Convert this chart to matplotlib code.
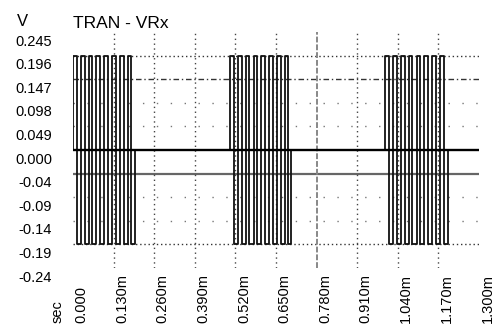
import matplotlib
matplotlib.use("Agg")
import matplotlib.pyplot as plt
from matplotlib.transforms import ScaledTranslation

plt.rcParams['font.family'] = ['Liberation Sans', 'DejaVu Sans']

# x in milliseconds
x_ticks = [0.0, 0.13, 0.26, 0.39, 0.52, 0.65, 0.78, 0.91, 1.04, 1.17, 1.30]
x_labels = ["0.000", "0.130m", "0.260m", "0.390m", "0.520m", "0.650m",
            "0.780m", "0.910m", "1.040m", "1.170m", "1.300m"]
y_ticks = [0.245, 0.196, 0.147, 0.098, 0.049, 0.0, -0.049, -0.098, -0.147, -0.196, -0.245]
y_labels = ["0.245", "0.196", "0.147", "0.098", "0.049", "0.000",
            "-0.04", "-0.09", "-0.14", "-0.19", "-0.24"]

# trace VRx: switching times (ms) and the level held after each switch (V)
burst1_t = [0.000, 0.012, 0.025, 0.037, 0.050, 0.062, 0.075, 0.087, 0.100, 0.112,
            0.125, 0.137, 0.150, 0.162, 0.175, 0.187, 0.200]
burst1_v = [0.196, -0.196, 0.196, -0.196, 0.196, -0.196, 0.196, -0.196, 0.196, -0.196,
            0.196, -0.196, 0.196, -0.196, 0.196, -0.196, 0.0]
burst2_t = [0.503, 0.515, 0.528, 0.540, 0.553, 0.565, 0.578, 0.590, 0.603, 0.615,
            0.628, 0.640, 0.653, 0.665, 0.678, 0.690, 0.698]
burst2_v = [0.196, -0.196, 0.196, -0.196, 0.196, -0.196, 0.196, -0.196, 0.196, -0.196,
            0.196, -0.196, 0.196, -0.196, 0.196, -0.196, 0.0]
burst3_t = [1.000, 1.012, 1.025, 1.037, 1.050, 1.062, 1.075, 1.087, 1.100, 1.112,
            1.125, 1.137, 1.150, 1.162, 1.175, 1.187, 1.200]
burst3_v = [0.196, -0.196, 0.196, -0.196, 0.196, -0.196, 0.196, -0.196, 0.196, -0.196,
            0.196, -0.196, 0.196, -0.196, 0.196, -0.196, 0.0]

t = burst1_t + burst2_t + burst3_t + [1.30]
v = burst1_v + burst2_v + burst3_v + [0.0]

fig = plt.figure(figsize=(4.92, 3.31), dpi=100)
ax = fig.add_axes([73/492, 1-268/331, (479-73)/492, (268-32)/331])
ax.set_xlim(0, 1.30)
ax.set_ylim(-0.245, 0.245)
for s in ax.spines.values():
    s.set_visible(False)

# grid
ax.axhline(0.196, color='#333333', lw=1.0, ls=(0, (1, 2)), zorder=1)
ax.axhline(0.147, color='#333333', lw=1.0, ls=(0, (4, 2, 1, 2)), zorder=1)
for yy in [0.098, 0.049, -0.098, -0.147]:
    ax.axhline(yy, color='#777777', lw=1.0, ls=(0, (1, 9)), zorder=1)
ax.axhline(-0.049, color='#666666', lw=1.6, zorder=1)
ax.axhline(-0.196, color='#333333', lw=1.0, ls=(0, (1, 2)), zorder=1)
for xx in x_ticks[1:-1]:
    if abs(xx - 0.78) < 1e-6:
        ax.axvline(xx, color='#888888', lw=1.4, ls=(0, (3, 1)), zorder=1)
    else:
        ax.axvline(xx, color='#444444', lw=1.0, ls=(0, (1, 2.5)), zorder=1)

ax.step([0.0] + t, [0.0] + v, where='post', color='#111111', lw=1.3, zorder=3)
ax.axhline(0.0, color='black', lw=1.7, zorder=4)

ax.set_xticks(x_ticks)
ax.set_xticklabels(x_labels, rotation=90, fontsize=10.5)
ax.set_yticks(y_ticks)
ax.set_yticklabels(y_labels, fontsize=10.5)
ax.tick_params(axis='both', length=0)
ax.tick_params(axis='x', pad=0)
ax.tick_params(axis='y', pad=15)
for lab in ax.get_xticklabels():
    lab.set_va('bottom')
    lab.set_transform(lab.get_transform() + ScaledTranslation(0.085, -0.55, fig.dpi_scale_trans))
for lab in ax.get_yticklabels():
    lab.set_transform(lab.get_transform() + ScaledTranslation(0, -0.08, fig.dpi_scale_trans))

fig.text(22/492, 1-22/331, "V", fontsize=12, ha='center', va='center')
fig.text(73/492, 1-24/331, "TRAN - VRx", fontsize=12.5, ha='left', va='center')
fig.text(58/492, 1-323/331, "sec", fontsize=10.5, rotation=90, ha='center', va='bottom')

fig.savefig("out.png", dpi=100)
